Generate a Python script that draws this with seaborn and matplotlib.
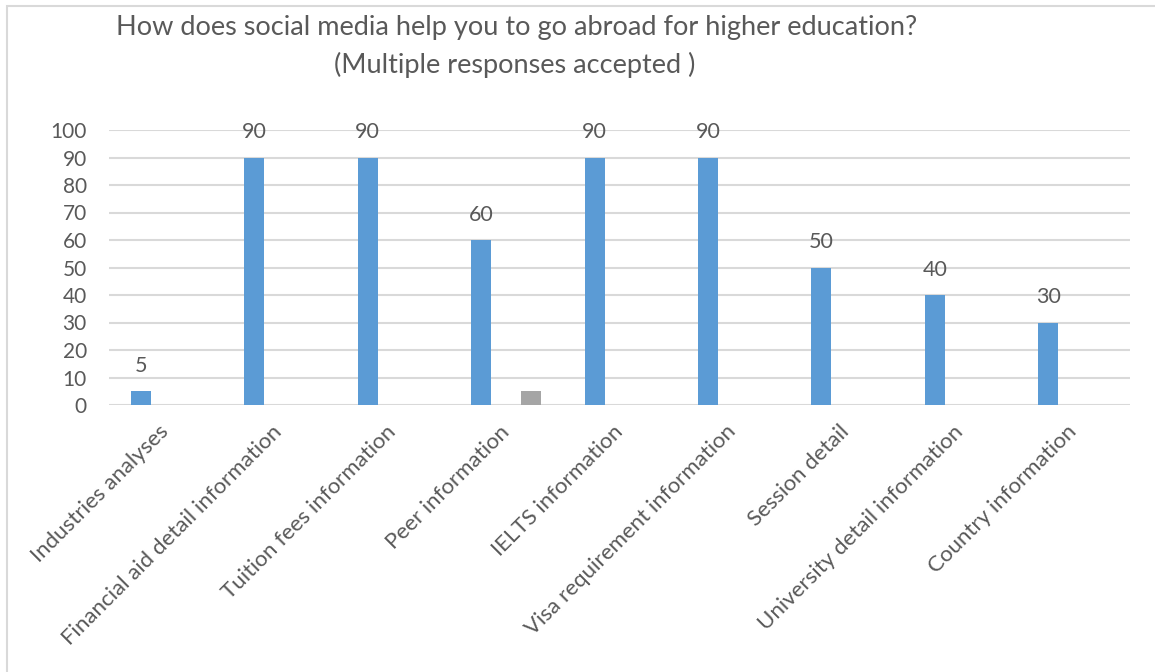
import matplotlib
matplotlib.use("Agg")
import matplotlib.pyplot as plt
import matplotlib.patches as mpatches
import pandas as pd
import seaborn as sns

# Survey answers (multiple responses accepted)
categories = [
    "Industries analyses",
    "Financial aid detail information",
    "Tuition fees information",
    "Peer information",
    "IELTS information",
    "Visa requirement information",
    "Session detail",
    "University detail information",
    "Country information",
]
series_names = ["Series1", "Series2", "Series3"]
series1 = [5, 90, 90, 60, 90, 90, 50, 40, 30]
series2 = [0, 0, 0, 0, 0, 0, 0, 0, 0]
series3 = [0, 0, 0, 5, 0, 0, 0, 0, 0]
y_ticks = [0, 10, 20, 30, 40, 50, 60, 70, 80, 90, 100]

title_line1 = "How does social media help you to go abroad for higher education?"
title_line2 = "(Multiple responses accepted )"

df = pd.DataFrame({
    "category": categories * 3,
    "series": [series_names[0]] * 9 + [series_names[1]] * 9 + [series_names[2]] * 9,
    "value": series1 + series2 + series3,
})

sns.set_theme(style="white")
plt.rcParams["font.family"] = ["Lato", "DejaVu Sans"]

TEXT = "#595959"
GRID = "#D9D9D9"

W, H = 1155, 672
fig = plt.figure(figsize=(W / 100, H / 100), dpi=100)
fig.patch.set_facecolor("white")

left, right, top, bottom = 109, 1130, 130, 405
ax = fig.add_axes([left / W, 1 - bottom / H, (right - left) / W, (bottom - top) / H])

sns.barplot(
    data=df, x="category", y="value", hue="series",
    order=categories, hue_order=series_names,
    palette=["#5B9BD5", "#ED7D31", "#A5A5A5"], saturation=1,
    width=0.66, gap=0.2, linewidth=0, errorbar=None,
    legend=False, ax=ax,
)

ax.set_ylim(0, 100)
ax.set_xlim(-0.5, len(categories) - 0.5)
ax.set_yticks(y_ticks)
ax.yaxis.grid(True, color=GRID, linewidth=1.5)
ax.set_axisbelow(True)
for s in ax.spines.values():
    s.set_visible(False)
ax.set_xlabel("")
ax.set_ylabel("")

ax.tick_params(axis="y", length=0, pad=16, labelsize=15, labelcolor=TEXT)
ax.tick_params(axis="x", length=0, pad=17, labelsize=16, labelcolor=TEXT)
ax.set_xticks(range(len(categories)))
ax.set_xticklabels(categories, rotation=45, ha="right", va="center",
                   rotation_mode="anchor")

# Value labels only for the first series
ax.bar_label(ax.containers[0], labels=[str(v) for v in series1],
             padding=11, fontsize=15.5, color=TEXT)

fig.text(517 / W, 1 - 28 / H, title_line1, ha="center", va="center",
         fontsize=19.5, color=TEXT)
fig.text(515 / W, 1 - 65 / H, title_line2, ha="center", va="center",
         fontsize=19.5, color=TEXT)

# Chart-area border
fig.patches.append(mpatches.Rectangle((7 / W, -0.1), 1.2, 1 - 6 / H + 0.1,
                                      transform=fig.transFigure, fill=False,
                                      edgecolor=GRID, linewidth=1.5))

fig.savefig("out.png", dpi=100)
